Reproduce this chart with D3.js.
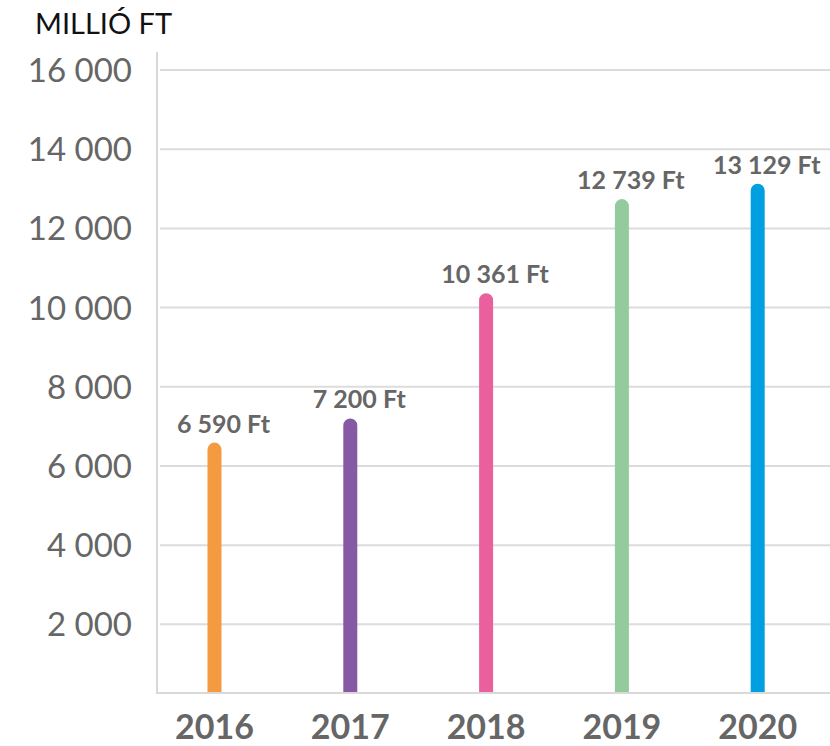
<!DOCTYPE html>
<html>
<head>
<meta charset="utf-8">
<script src="https://cdn.jsdelivr.net/npm/d3@7"></script>
<style>
  body { margin: 0; background: #fff; }
  svg { display: block; font-family: Lato, "Open Sans", sans-serif; }
</style>
</head>
<body>
<svg width="830" height="746"></svg>
<script>
let years = ["2016", "2017", "2018", "2019", "2020"];
let values = [6590, 7200, 10361, 12739, 13129];
let valueLabels = ["6 590 Ft", "7 200 Ft", "10 361 Ft", "12 739 Ft", "13 129 Ft"];
let colors = ["#f49a41", "#8559a4", "#ea5f9d", "#94cb9c", "#009fe0"];
let yTicks = [2000, 4000, 6000, 8000, 10000, 12000, 14000, 16000];
let yTickLabels = ["2 000", "4 000", "6 000", "8 000", "10 000", "12 000", "14 000", "16 000"];

let svg = d3.select("svg");
let width = +svg.attr("width");

let left = 157;
let plotBottom = 693;
let barW = 14;

let x = d3.scalePoint().domain(years).range([214.5, 757.7]);
let y = d3.scaleLinear().domain([0, 16000]).range([703.5, 70]);

// title
svg.append("text")
    .attr("x", 35)
    .attr("y", 34)
    .attr("font-size", 29)
    .attr("fill", "#111")
    .text("MILLIÓ FT");

// gridlines
svg.append("g")
    .selectAll("line")
    .data(yTicks)
    .enter()
    .append("line")
    .attr("x1", left + 3)
    .attr("x2", width)
    .attr("y1", (d) => y(d))
    .attr("y2", (d) => y(d))
    .attr("stroke", "#dcdcdc")
    .attr("stroke-width", 2);

// y tick labels
svg.append("g")
    .selectAll("text")
    .data(yTicks)
    .enter()
    .append("text")
    .attr("x", 132)
    .attr("y", (d) => y(d) + 12)
    .attr("text-anchor", "end")
    .attr("font-size", 33)
    .attr("fill", "#666")
    .text((d, i) => yTickLabels[i]);

// axis lines
svg.append("line")
    .attr("x1", left).attr("x2", left)
    .attr("y1", 52).attr("y2", plotBottom + 1)
    .attr("stroke", "#d9d9d9").attr("stroke-width", 2);
svg.append("line")
    .attr("x1", left).attr("x2", width)
    .attr("y1", plotBottom).attr("y2", plotBottom)
    .attr("stroke", "#d9d9d9").attr("stroke-width", 2);

// bars with rounded tops
let r = barW / 2;
svg.append("g")
    .selectAll("path")
    .data(years)
    .enter()
    .append("path")
    .attr("fill", (d, i) => colors[i])
    .attr("d", (d, i) => {
        let cx = x(d);
        let top = y(values[i]);
        return `M${cx - r},${plotBottom - 1} V${top + r} A${r},${r} 0 0 1 ${cx + r},${top + r} V${plotBottom - 1} Z`;
    });

// value labels
svg.append("g")
    .selectAll("text")
    .data(years)
    .enter()
    .append("text")
    .attr("x", (d) => x(d) + 9)
    .attr("y", (d, i) => y(values[i]) - 10)
    .attr("text-anchor", "middle")
    .attr("font-size", 25)
    .attr("font-weight", "bold")
    .attr("fill", "#666")
    .text((d, i) => valueLabels[i]);

// x labels
svg.append("g")
    .selectAll("text")
    .data(years)
    .enter()
    .append("text")
    .attr("x", (d) => x(d))
    .attr("y", 739)
    .attr("text-anchor", "middle")
    .attr("font-size", 34)
    .attr("font-weight", "bold")
    .attr("fill", "#666")
    .text((d) => d);
</script>
</body>
</html>
